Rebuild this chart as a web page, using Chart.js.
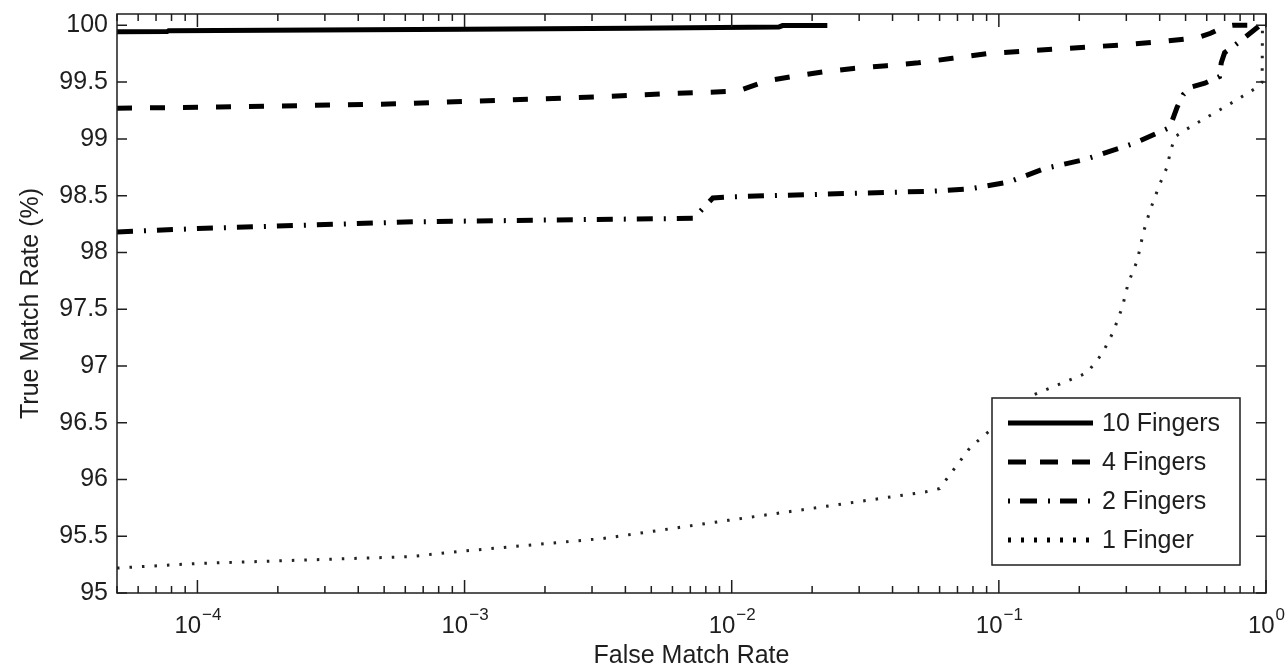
<!DOCTYPE html>
<html>
<head>
<meta charset="utf-8">
<script src="https://cdn.jsdelivr.net/npm/chart.js@4.4.0/dist/chart.umd.min.js"></script>
<style>
  html, body { margin: 0; padding: 0; background: #fff; }
  #wrap { width: 1288px; height: 671px; }
</style>
</head>
<body>
<div id="wrap"><canvas id="roc"></canvas></div>
<script>
// series labels, in legend order
const seriesNames = ["10 Fingers", "4 Fingers", "2 Fingers", "1 Finger"]

// false match rate (x) / true match rate in % (y)
const fmr10 = [5e-5, 7.7e-5, 7.8e-5, 1.2e-4, 1e-3, 4.2e-3, 0.015, 0.0155, 0.0228]
const tmr10 = [99.943, 99.945, 99.952, 99.955, 99.965, 99.975, 99.985, 99.998, 99.998]

const fmr4 = [5e-5, 1.2e-4, 6e-4, 1e-3, 3.2e-3, 6e-3, 0.0105, 0.0135, 0.017, 0.022, 0.0285, 0.038, 0.05, 0.067, 0.09, 0.12, 0.16, 0.22, 0.3, 0.4, 0.5, 0.57, 0.62, 0.70, 0.75, 1]
const tmr4 = [99.27, 99.28, 99.31, 99.33, 99.37, 99.40, 99.42, 99.51, 99.55, 99.59, 99.62, 99.645, 99.67, 99.71, 99.75, 99.77, 99.79, 99.81, 99.83, 99.855, 99.88, 99.9, 99.93, 99.99, 100, 100]

const fmr2 = [5e-5, 1e-4, 6.6e-4, 3e-3, 0.0072, 0.0085, 0.01, 0.02, 0.057, 0.078, 0.109, 0.149, 0.211, 0.285, 0.32, 0.39, 0.436, 0.465, 0.49, 0.53, 0.59, 0.67, 0.68, 0.70, 0.77, 0.86, 0.95, 1]
const tmr2 = [98.18, 98.21, 98.27, 98.29, 98.30, 98.48, 98.49, 98.51, 98.54, 98.56, 98.62, 98.74, 98.82, 98.92, 98.96, 99.05, 99.10, 99.28, 99.39, 99.46, 99.49, 99.55, 99.67, 99.76, 99.83, 99.92, 100, 100]

const fmr1 = [5e-5, 1e-4, 6.2e-4, 1e-3, 3.3e-3, 0.0097, 0.018, 0.053, 0.06, 0.078, 0.13, 0.214, 0.244, 0.268, 0.29, 0.305, 0.33, 0.347, 0.368, 0.40, 0.426, 0.44, 0.457, 0.5, 0.59, 0.70, 0.85, 0.935, 0.967, 0.97, 1]
const tmr1 = [95.22, 95.26, 95.32, 95.37, 95.48, 95.64, 95.73, 95.89, 95.92, 96.28, 96.73, 96.94, 97.11, 97.30, 97.52, 97.73, 97.93, 98.17, 98.37, 98.6, 98.75, 98.9, 99.02, 99.08, 99.18, 99.28, 99.40, 99.46, 99.5, 100, 100]

// x axis decades that get a 10^n label
const decadeExps = [-4, -3, -2, -1, 0]

const FONT = "'Liberation Sans', Arial, Helvetica, sans-serif"
const INK = "#1e1e1e"

const toPoints = (xs, ys) => xs.map((v, i) => ({x: v, y: ys[i]}))

const lineStyles = [
  {width: 5, color: "#000", dash: [], legendDash: []},
  {width: 5, color: "#000", dash: [15, 18], legendDash: [18, 14]},
  {width: 5, color: "#000", dash: [16, 11, 2, 11], legendDash: [2, 10, 17, 11]},
  {width: 3, color: "#222", dash: [2.5, 10], legendDash: [3, 10]},
]

const seriesData = [
  toPoints(fmr10, tmr10),
  toPoints(fmr4, tmr4),
  toPoints(fmr2, tmr2),
  toPoints(fmr1, tmr1),
]

// box, inward ticks on all four sides, and 10^n labels
const matlabAxes = {
  id: "matlabAxes",
  afterDatasetsDraw(chart) {
    const {ctx, chartArea: a, scales: {x, y}} = chart
    ctx.save()
    ctx.strokeStyle = INK
    ctx.lineWidth = 1.5
    ctx.setLineDash([])
    ctx.beginPath()

    y.ticks.forEach(t => {
      const py = y.getPixelForValue(t.value)
      ctx.moveTo(a.left, py); ctx.lineTo(a.left + 10, py)
      ctx.moveTo(a.right, py); ctx.lineTo(a.right - 10, py)
    })

    for (let e = -5; e <= 0; e++) {
      for (let k = 1; k <= 9; k++) {
        const v = k * Math.pow(10, e)
        if (v < x.min * 0.999 || v > x.max * 1.001) continue
        const px = x.getPixelForValue(v)
        const len = k === 1 ? 13 : 7
        ctx.moveTo(px, a.bottom); ctx.lineTo(px, a.bottom - len)
        ctx.moveTo(px, a.top); ctx.lineTo(px, a.top + len)
      }
    }
    ctx.stroke()

    ctx.strokeRect(a.left, a.top, a.right - a.left, a.bottom - a.top)

    // decade labels with superscript exponent
    ctx.fillStyle = INK
    ctx.textBaseline = "alphabetic"
    ctx.textAlign = "left"
    decadeExps.forEach(e => {
      const px = x.getPixelForValue(Math.pow(10, e))
      const base = "10"
      const sup = e < 0 ? "\u2212" + Math.abs(e) : String(e)
      ctx.font = "24px " + FONT
      const wBase = ctx.measureText(base).width
      ctx.font = "17px " + FONT
      const wSup = ctx.measureText(sup).width
      const left = px - (wBase + wSup) / 2
      ctx.font = "24px " + FONT
      ctx.fillText(base, left, a.bottom + 40)
      ctx.font = "17px " + FONT
      ctx.fillText(sup, left + wBase + 1, a.bottom + 27)
    })
    ctx.restore()
  }
}

// boxed legend in the lower right corner of the plot
const boxLegend = {
  id: "boxLegend",
  afterDraw(chart) {
    const {ctx, chartArea: a} = chart
    const bx = a.right - 274, by = a.bottom - 195, bw = 248, bh = 167
    ctx.save()
    ctx.fillStyle = "#fff"
    ctx.fillRect(bx, by, bw, bh)
    ctx.strokeStyle = INK
    ctx.lineWidth = 1.5
    ctx.strokeRect(bx, by, bw, bh)
    ctx.font = "25px " + FONT
    ctx.textBaseline = "middle"
    ctx.textAlign = "left"
    seriesNames.forEach((name, i) => {
      const st = lineStyles[i]
      const cy = by + 25 + i * 39
      ctx.beginPath()
      ctx.lineWidth = st.width + (i === 3 ? 2 : 0)
      ctx.lineCap = "butt"
      ctx.setLineDash(st.legendDash)
      ctx.strokeStyle = "#000"
      ctx.moveTo(bx + 16, cy)
      ctx.lineTo(bx + 101, cy)
      ctx.stroke()
      ctx.setLineDash([])
      ctx.fillStyle = INK
      ctx.fillText(name, bx + 110, cy + 1)
    })
    ctx.restore()
  }
}

const ctx = document.getElementById("roc")

new Chart(ctx, {
  type: "line",
  data: {
    datasets: seriesNames.map((name, i) => ({
      label: name,
      data: seriesData[i],
      borderColor: lineStyles[i].color,
      borderWidth: lineStyles[i].width,
      borderDash: lineStyles[i].dash,
      borderCapStyle: "butt",
      pointRadius: 0,
      fill: false,
      tension: 0,
    })),
  },
  options: {
    responsive: true,
    maintainAspectRatio: false,
    animation: false,
    layout: {
      padding: {top: 14, right: 22, left: 0, bottom: 0}
    },
    plugins: {
      legend: {display: false},
      tooltip: {enabled: false},
    },
    scales: {
      x: {
        type: "logarithmic",
        min: 5e-5,
        max: 1,
        grid: {display: false, drawTicks: false},
        border: {display: false},
        ticks: {display: false, autoSkip: false},
        title: {
          display: true,
          text: "False Match Rate",
          color: INK,
          font: {family: FONT, size: 25},
          padding: {top: 0, bottom: 0},
        },
        afterFit(scale) {
          scale.height = 78
          scale.paddingLeft = 0
          scale.paddingRight = 0
        },
      },
      y: {
        type: "linear",
        min: 95,
        max: 100.1,
        grid: {display: false, drawTicks: false},
        border: {display: false},
        ticks: {
          stepSize: 0.5,
          includeBounds: false,
          padding: 9,
          color: INK,
          font: {family: FONT, size: 25},
          callback: v => String(v),
        },
        title: {
          display: true,
          text: "True Match Rate (%)",
          color: INK,
          font: {family: FONT, size: 25},
          padding: {top: 16, bottom: 0},
        },
        afterFit(scale) {
          scale.width = 117
          // label overhang is not needed: the plot keeps its own margins
          scale.paddingTop = 0
          scale.paddingBottom = 0
        },
      },
    },
  },
  plugins: [matlabAxes, boxLegend],
})
</script>
</body>
</html>
